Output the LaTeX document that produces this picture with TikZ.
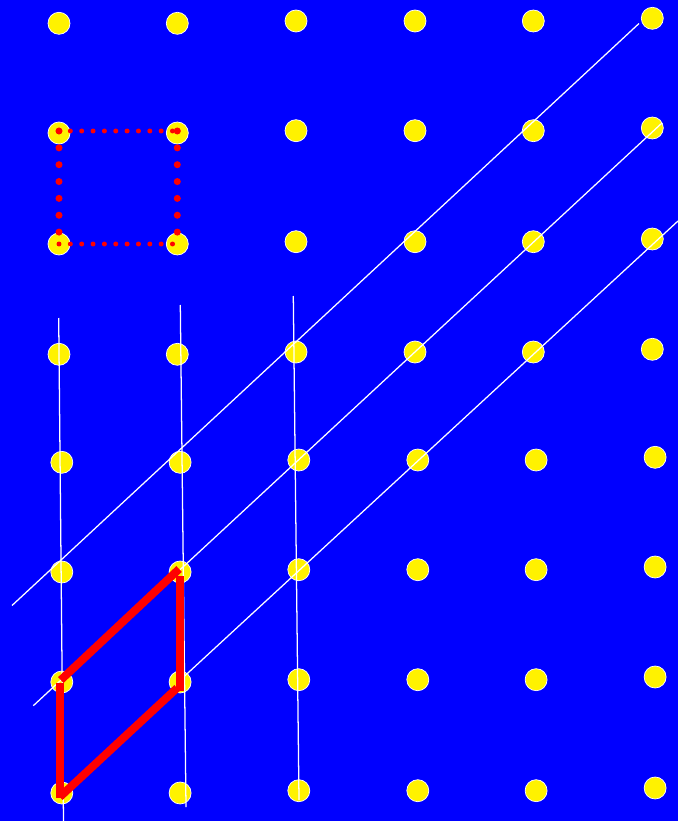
\documentclass[tikz,border=0pt]{standalone}
\usetikzlibrary{calc}
\begin{document}
\begin{tikzpicture}[x=0.05cm,y=-0.05cm,
  latdot/.style={circle,fill=yellow,draw=white,line width=1pt,minimum size=1.1cm,inner sep=0pt},
  whiteline/.style={draw=white,line width=1.8pt},
  redbar/.style={draw=red,line width=11.4pt,line cap=butt},
  hdots/.style={draw=red,line width=7.1pt,line cap=round,dash pattern=on 0pt off 16.15pt},
  vdots/.style={draw=red,line width=10pt,line cap=round,dash pattern=on 0pt off 23.97pt}]
\fill[blue] (0,0) rectangle (678,821);
\useasboundingbox (0,0) rectangle (678,821);
% lattice points
\foreach \r/\yy in {1/23.3,2/133,3/244,4/354.3,5/462.3,6/572,7/682,8/793}{
  \foreach \c/\dy in {1/0,2/0,3/-2.3,4/-2.3,5/-2.3,6/-5}{
    \pgfmathsetmacro\xx{{59,177.3,296,415,533.3,652.3}[\c-1]+(\r>4)*2.8}
    \pgfmathsetmacro\yv{\yy+\dy}
    \node[latdot] (d\r-\c) at (\xx,\yv) {};
  }
}
% end points of lattice lines
\coordinate (v1a) at (58.7,318);  \coordinate (v1b) at (63.5,821);
\coordinate (v2a) at (180.3,305); \coordinate (v2b) at (186,807);
\coordinate (v3a) at (293.3,296); \coordinate (v3b) at (299,800);
\coordinate (g1a) at (12,605.5);  \coordinate (g1b) at (639,23.5);
\coordinate (g2a) at (33.3,705.7); \coordinate (g2b) at (662,123);
\coordinate (g3a) at (183,677.5); \coordinate (g3b) at (678,221);
\draw[whiteline] (v1a) -- (v1b);
\draw[whiteline] (v2a) -- (v2b);
\draw[whiteline] (v3a) -- (v3b);
\draw[whiteline] (g1a) -- (g1b);
\draw[whiteline] (g2a) -- (g2b);
\draw[whiteline] (g3a) -- (g3b);
% dotted square cell
\draw[hdots] ($(d2-1.center)+(0,-2)$) -- ($(d2-2.center)+(0,-2)$);
\draw[hdots] (d3-1.center) -- (d3-2.center);
\draw[vdots] ($(d2-1.center)+(0,-2)$) -- (d3-1.center);
\draw[vdots] ($(d2-2.center)+(0,-2)$) -- (d3-2.center);
% sheared cell
\draw[redbar] ($(d7-1.center)+(-1,-2)$) -- ($(d6-2.center)+(-1,-3)$);
\draw[redbar] ($(d6-2.center)+(0,4)$) -- ($(d7-2.center)+(0,9)$);
\draw[redbar] ($(d7-2.center)+(-3,6)$) -- ($(d8-1.center)+(-2,4)$);
\draw[redbar] ($(d8-1.center)+(-2,5)$) -- ($(d7-1.center)+(-2,1)$);
\end{tikzpicture}
\end{document}
